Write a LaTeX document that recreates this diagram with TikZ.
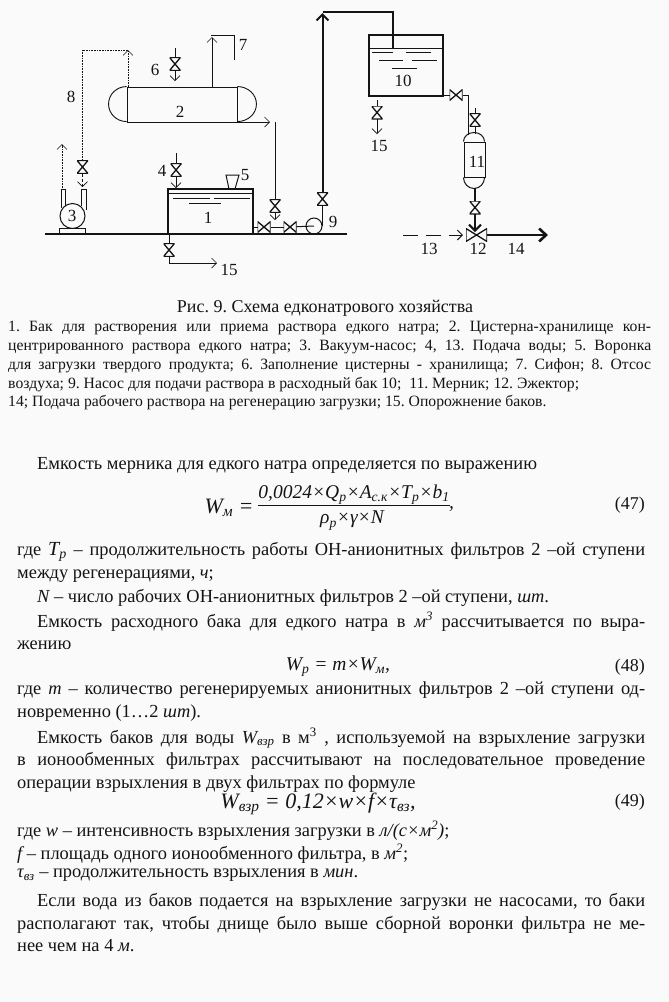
\documentclass[tikz,border=0pt]{standalone}
\usepackage{xcolor}
\definecolor{ink}{RGB}{20,20,20}
\definecolor{paper}{RGB}{250,250,250}
\usepackage{fontspec}
\setmainfont{Liberation Serif}
\usepackage{tikz}
\usetikzlibrary{arrows.meta,positioning,calc}
\newcommand{\lowr}[1]{\textsubscript{\itshape #1}}
\tikzset{
  pipe/.style={draw=ink, line width=0.7pt},
  thickpipe/.style={draw=ink, line width=2pt},
  wall/.style={draw=ink, line width=1.7pt},
  arr/.style={pipe, -{Straight Barb[length=5pt,width=10pt]}},
  thickarr/.style={thickpipe, -{Straight Barb[length=6pt,width=12pt]}},
  airarr/.style={draw=ink, line width=0.6pt, densely dotted, -{Straight Barb[length=5pt,width=10pt]}},
  air/.style={draw=ink, line width=0.6pt, densely dotted},
  water/.style={draw=ink, line width=0.7pt},
  valvev/.style={inner sep=0pt, outer sep=0pt, minimum width=11pt, minimum height=13pt,
    path picture={\draw[ink, line width=1.3pt] (path picture bounding box.north west) -- (path picture bounding box.north east)
      -- (path picture bounding box.south west) -- (path picture bounding box.south east) -- cycle;}},
  valveh/.style={inner sep=0pt, outer sep=0pt, minimum width=13pt, minimum height=11pt,
    path picture={\draw[ink, line width=1.3pt] (path picture bounding box.north west) -- (path picture bounding box.south west)
      -- (path picture bounding box.north east) -- (path picture bounding box.south east) -- cycle;}},
  lab/.style={inner sep=0pt, text=ink, font=\fontsize{17}{17}\selectfont},
  capt/.style={inner sep=0pt, text=ink, font=\fontsize{18}{20}\selectfont},
  legendtext/.style={inner sep=0pt, anchor=north west, text=ink, text width=643pt, align=justify,
    font=\fontsize{15.7}{18.8}\selectfont},
  bodytext/.style={inner sep=0pt, anchor=north west, text=ink, text width=628pt, align=justify,
    font=\fontsize{18.4}{22.8}\selectfont},
  formula/.style={inner sep=0pt, text=ink, font=\fontsize{19.5}{24}\selectfont\itshape},
  bigformula/.style={inner sep=0pt, text=ink, font=\fontsize{22}{24}\selectfont\itshape},
  eqnum/.style={inner sep=0pt, anchor=east, text=ink, font=\fontsize{18}{20}\selectfont},
}
\begin{document}
\begin{tikzpicture}[x=1pt,y=-1pt]
\fill[paper] (0,0) rectangle (669,1002);
\useasboundingbox (0,0) rectangle (669,1002);
\tolerance=9999
\emergencystretch=10pt
\frenchspacing
% ground
\coordinate (gl) at (45,234);
\coordinate (gr) at (347,234);
\draw[wall,line width=2pt] (gl) -- (gr);
% tank 2
\node[draw=ink,line width=0.9pt,minimum width=110pt,minimum height=35pt,inner sep=0pt] (tank2) at (182,104.5) {};
\draw[draw=ink,line width=0.9pt] (tank2.north west) arc[start angle=90,end angle=270,x radius=18pt,y radius=17.5pt];
\draw[draw=ink,line width=0.9pt] (tank2.north east) arc[start angle=90,end angle=-90,x radius=19pt,y radius=17.5pt];
\node[lab] (l2) at (180,112) {2};
% tank 1
\node[wall,minimum width=85pt,minimum height=45pt,inner sep=0pt] (tank1) at (210.5,211.5) {};
\coordinate (lev1a) at (169,193);
\coordinate (lev1b) at (252,193);
\draw[pipe] (lev1a) -- (lev1b);
\draw[water] (173,198) -- (210,198) (214,198) -- (250,198) (189,203) -- (221,203);
\node[lab] (l1) at (208,218) {1};
% funnel 5
\draw[ink,line width=1pt] (226,175) -- (239,175) -- (235,189) -- (229,189) -- cycle;
\node[lab] (l5) at (245,175) {5};
% feed 4
\coordinate (f4) at (176,153);
\node[valvev] (v4) at (176,170) {};
\coordinate (t4) at (176,188);
\draw[pipe] (f4) -- (v4);
\draw[arr] (v4) -- (t4);
\node[lab] (l4) at (162,171) {4};
% feed 6
\coordinate (f6) at (175,48);
\node[valvev] (v6) at (175,64) {};
\coordinate (t6) at (175,81);
\draw[pipe] (f6) -- (v6);
\draw[arr] (v6) -- (t6);
\node[lab] (l6) at (155,70) {6};
% siphon 7
\coordinate (s7a) at (212,87);
\coordinate (s7b) at (212,37);
\coordinate (s7c) at (211,35);
\coordinate (s7d) at (234,35);
\coordinate (s7e) at (234,60);
\draw[arr] (s7a) -- (s7b);
\draw[pipe] (s7c) -- (s7d) -- (s7e);
\node[lab] (l7) at (243,45) {7};
% pump 3 and air line 8
\node[circle,draw=ink,line width=1pt,minimum size=25pt,inner sep=0pt] (p3) at (72.5,216) {};
\node[lab] (l3) at (72,216) {3};
\node[draw=ink,line width=0.9pt,minimum width=26pt,minimum height=6pt,inner sep=0pt] (base3) at (72,231) {};
\draw[ink,line width=0.9pt] (61,208) -- (61,189) -- (65,189) -- (65,206);
\draw[ink,line width=0.9pt] (81,206) -- (81,189) -- (86,189) -- (86,210);
\coordinate (a3a) at (62,188);
\coordinate (a3b) at (62,144);
\draw[airarr] (a3a) -- (a3b);
\coordinate (a8a) at (128,87);
\coordinate (a8b) at (128,50);
\coordinate (a8c) at (82.5,50);
\draw[airarr] (a8a) -- (a8b);
\draw[air] (a8b) -- (a8c);
\node[valvev] (v8) at (82.5,167) {};
\coordinate (t8) at (82.5,187);
\draw[air] (a8c) -- (v8);
\draw[ink,line width=0.7pt,densely dashed,-{Straight Barb[length=5pt,width=10pt]}] (v8) -- (t8);
\node[lab] (l8) at (71,97) {8};
% outlet of 2
\coordinate (o2a) at (237,122);
\coordinate (o2b) at (270,122);
\draw[arr] (o2a) -- (o2b);
\coordinate (o2c) at (275,122);
\node[valvev] (v2) at (275,206) {};
\coordinate (t2) at (275,220);
\draw[pipe] (o2c) -- (v2);
\draw[arr] (v2) -- (t2);
% pipe to pump 9
\node[valveh] (v1a) at (264,227) {};
\node[valveh] (v1b) at (290,227) {};
\node[circle,draw=ink,line width=1pt,minimum size=16pt,inner sep=0pt] (p9) at (314,226) {};
\coordinate (b1) at (253,227);
\draw[ink,line width=1pt] (b1) -- (v1a);
\draw[ink,line width=1pt] (v1a) -- (v1b);
\draw[ink,line width=1pt] (v1b) -- (p9.center);
\node[valvev] (v9) at (322.5,199) {};
\draw[pipe,line width=1pt] (p9.east) -- (v9.south);
\coordinate (t9) at (322.5,13);
\coordinate (c9) at (393,12);
\coordinate (d9) at (393,48);
\coordinate (e9) at (322.5,12);
\draw[thickarr] (v9) -- (t9);
\draw[ink,line width=1.6pt] (e9) -- (c9) -- (d9);
\node[lab] (l9) at (333,222) {9};
% tank 10
\node[wall,minimum width=74pt,minimum height=61pt,inner sep=0pt] (tank10) at (406,65.5) {};
\coordinate (lev10a) at (370,48);
\coordinate (lev10b) at (442,48);
\draw[pipe] (lev10a) -- (lev10b);
\draw[water] (372,52) -- (393,52) (406,52) -- (431,52) (379,60) -- (403,60)
  (412,60) -- (437,60) (392,68) -- (417,68);
\node[lab] (l10) at (403,81) {10};
\coordinate (f15) at (377,100);
\node[valvev] (v15) at (377,112.5) {};
\coordinate (t15) at (377,134);
\draw[pipe] (f15) -- (v15);
\draw[arr] (v15) -- (t15);
\node[lab] (l15a) at (379,146) {15};
% tank 11
\node[valveh] (v10) at (456,95) {};
\coordinate (b10) at (443,95);
\coordinate (k11) at (468,95);
\coordinate (m11) at (468,135);
\draw[pipe,line width=1pt] (b10) -- (v10);
\draw[pipe,line width=1pt] (v10) -- (k11) -- (m11);
\node[draw=ink,line width=1pt,minimum width=21pt,minimum height=35pt,inner sep=0pt] (tank11) at (474.5,159.5) {};
\draw[ink,line width=1pt] (tank11.north west) arc[start angle=180,end angle=0,x radius=10.5pt,y radius=9pt];
\draw[ink,line width=1pt] (tank11.south west) arc[start angle=180,end angle=360,x radius=10.5pt,y radius=11pt];
\node[lab] (l11) at (477,162) {11};
\coordinate (f11) at (475,108);
\node[valvev] (v11) at (475,120) {};
\coordinate (g11) at (475,134);
\draw[pipe] (f11) -- (v11);
\draw[pipe] (v11) -- (g11);
\coordinate (h11) at (475,188);
\node[valvev] (v12) at (475,207.5) {};
\coordinate (t12) at (475,232);
\draw[thickpipe] (h11) -- (v12);
\draw[thickarr] (v12) -- (t12);
% ejector 12
\node[valveh,minimum width=21pt,minimum height=13pt] (ej) at (476.5,235) {};
\coordinate (f13) at (403,235);
\coordinate (t13) at (463,235);
\draw[ink,line width=1pt,dash pattern=on 15pt off 8pt,-{Straight Barb[length=5pt,width=10pt]}] (f13) -- (t13);
\coordinate (t14) at (548,235);
\draw[ink,line width=2.6pt,-{Straight Barb[length=7pt,width=13pt]}] (ej) -- (t14);
\node[lab] (l13) at (429,249) {13};
\node[lab] (l12) at (478,249) {12};
\node[lab] (l14) at (516,249) {14};
% drain 15
\coordinate (f15b) at (169,235);
\node[valvev] (v15b) at (169,250) {};
\coordinate (k15) at (169,263);
\coordinate (t15b) at (217,263);
\draw[pipe,line width=1pt] (f15b) -- (v15b);
\draw[pipe] (v15b) -- (k15);
\draw[arr] (k15) -- (t15b);
\node[lab] (l15b) at (229,270) {15};
% caption and legend
\node[capt] (capt) at (325,308) {Рис. 9. Схема едконатрового хозяйства};
\node[legendtext] (legend) at (8,321) {1. Бак для растворения или приема раствора едкого натра; 2. Цистерна-хранилище кон-\linebreak
центрированного раствора едкого натра; 3. Вакуум-насос; 4, 13. Подача воды; 5. Воронка\linebreak
для загрузки твердого продукта; 6. Заполнение цистерны - хранилища; 7. Сифон; 8. Отсос\linebreak
воздуха; 9. Насос для подачи раствора в расходный бак 10;\ \ 11. Мерник; 12. Эжектор;\hspace*{\fill}\linebreak
14; Подача рабочего раствора на регенерацию загрузки; 15. Опорожнение баков.};
% text
\node[bodytext] (p1) at (17,457) {\hspace*{20pt}Емкость мерника для едкого натра определяется по выражению};
\node[bigformula] (wm) at (229,508) {W\lowr{м} =};
\node[formula,anchor=south] (num47) at (354,505) {0,0024×Q\lowr{p}×A\lowr{с.к}×T\lowr{p}×b\lowr{1}};
\node[formula,anchor=north] (den47) at (352,511) {ρ\lowr{p}×γ×N};
\draw[ink,line width=0.6pt] (num47.south west) -- (num47.south east);
\node[formula,anchor=north west] (com47) at (449,506) {,};
\node[eqnum] (n47) at (645,505) {(47)};
\node[bodytext] (p2) at (17,542) {где {\itshape\fontsize{20}{22}\selectfont T\lowr{p}} – продолжительность работы ОН-анионитных фильтров 2 –ой ступени\linebreak
между регенерациями, {\itshape ч};};
\node[bodytext] (p3) at (37,589) {{\itshape N} – число рабочих ОН-анионитных фильтров 2 –ой ступени, {\itshape шт}.};
\node[bodytext] (p4) at (17,612) {\hspace*{20pt}Емкость расходного бака для едкого натра в {\itshape м\textsuperscript{3}} рассчитывается по выра-\linebreak
жению};
\node[formula] (wp) at (338,667) {W\lowr{p} = m×W\lowr{м},};
\node[eqnum] (n48) at (645,667) {(48)};
\node[bodytext] (p5) at (17,682) {где {\itshape m} – количество регенерируемых анионитных фильтров 2 –ой ступени од-\linebreak
новременно (1…2 {\itshape шт}).};
\node[bodytext] (p6) at (17,728) {\hspace*{20pt}Емкость баков для воды {\itshape W\lowr{взр}} в м\textsuperscript{3} , используемой на взрыхление загрузки\linebreak
в ионообменных фильтрах рассчитывают на последовательное проведение\linebreak
операции взрыхления в двух фильтрах по формуле};
\node[bigformula] (wv) at (318,804) {W\lowr{взр} = 0,12×w×f×τ\lowr{вз},};
\node[eqnum] (n49) at (645,802) {(49)};
\node[bodytext] (p7) at (17,821) {где {\itshape w} – интенсивность взрыхления загрузки в {\itshape л/(с×м\textsuperscript{2})};};
\node[bodytext] (p8) at (17,844) {{\itshape f} – площадь одного ионообменного фильтра, в {\itshape м\textsuperscript{2}};};
\node[bodytext] (p9) at (17,869) {{\itshape τ\lowr{вз}} – продолжительность взрыхления в {\itshape мин}.};
\node[bodytext] (p10) at (17,893) {\hspace*{20pt}Если вода из баков подается на взрыхление загрузки не насосами, то баки\linebreak
располагают так, чтобы днище было выше сборной воронки фильтра не ме-\linebreak
нее чем на 4 {\itshape м}.};
\end{tikzpicture}
\end{document}
